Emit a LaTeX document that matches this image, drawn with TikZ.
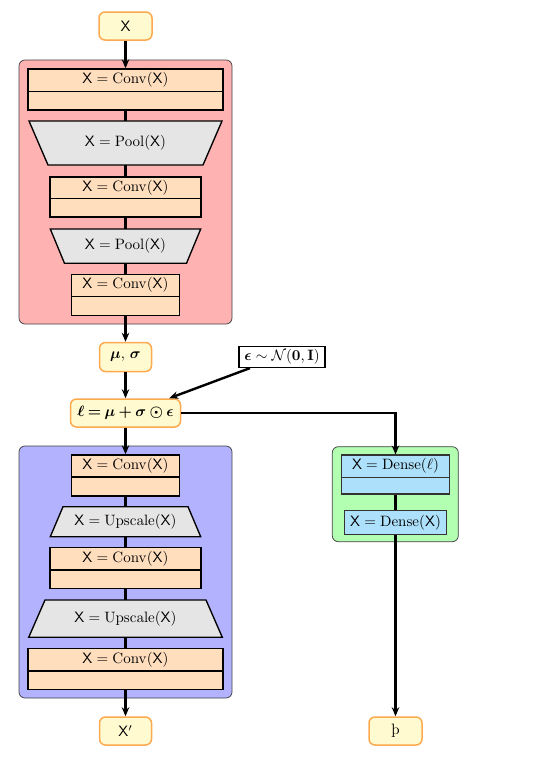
\documentclass[tikz,border=0pt]{standalone}
\usepackage{amsmath,amssymb,bm}
\usetikzlibrary{arrows.meta,calc}
\def\PX{0.6667pt}
\definecolor{peach}{RGB}{255,222,190}
\definecolor{densec}{RGB}{173,224,250}
\definecolor{ionode}{RGB}{255,250,208}
\definecolor{ioborder}{RGB}{252,170,80}
\tikzset{
  x=0.6667pt, y=-0.6667pt,
  sz/.style 2 args={minimum width=#1*\PX, minimum height=#2*\PX},
  iobox/.style={draw=ioborder, line width=1pt, fill=ionode, rounded corners=4pt, inner sep=0pt},
  container/.style={draw=black!75, line width=0.5pt, rounded corners=4pt, inner sep=0pt},
  convbox/.style={draw=black, line width=0.9pt, fill=peach, inner sep=0pt},
  densebox/.style={draw=black!80, line width=0.7pt, fill=densec, inner sep=0pt},
  trapfill/.style={draw=black, line width=0.9pt, fill=black!10},
  ghost/.style={inner sep=0pt},
  arr/.style={line width=1.6pt, -{Stealth[length=6pt,width=5pt]}},
  link/.style={line width=1.6pt},
  epsbox/.style={draw=black, line width=0.8pt, fill=white, inner sep=2pt},
}
\begin{document}
\begin{tikzpicture}
\useasboundingbox (0,0) rectangle (539,759);
% containers
\node[container, fill=red!30, sz={213}{264}] (red) at (125.5,192) {};
\node[container, fill=blue!30, sz={213}{252}] (blue) at (125.5,572) {};
\node[container, fill=green!30, sz={126}{95}] (green) at (395.3,494.2) {};

% trapezoids (shapes drawn directly)
\draw[trapfill] (29,121) -- (222,121) -- (203,165) -- (48,165) -- cycle;
\draw[trapfill] (50.3,229) -- (200.7,229) -- (186.5,263.3) -- (64.5,263.3) -- cycle;
\draw[trapfill] (63,506.7) -- (188,506.7) -- (200.7,536.7) -- (50.3,536.7) -- cycle;
\draw[trapfill] (45,600) -- (206,600) -- (222.3,637.3) -- (28.7,637.3) -- cycle;

% input / output
\node[iobox, sz={53}{28}] (in) at (125.5,26) {$\mathsf{X}$};
\node[iobox, sz={52}{28}] (out) at (125.5,731) {$\mathsf{X}'$};
\node[iobox, sz={53}{28}] (thorn) at (395.5,731) {þ};
\node[iobox, sz={52}{29}] (mu) at (125.5,357) {$\bm{\mu},\,\bm{\sigma}$};
\node[iobox, sz={110}{28}] (ell) at (125.5,413) {$\bm{\ell}\mathbin{\bm{=}}\bm{\mu}\mathbin{\bm{+}}\bm{\sigma}\mathbin{\bm{\odot}}\bm{\epsilon}$};
\node[epsbox, sz={86}{21}] (eps) at (282,357) {$\bm{\epsilon}\sim\mathcal{N}(\mathbf{0},\mathbf{I})$};

% encoder
\node[convbox, sz={195}{41}] (c1) at (125.5,89.5) {};
\node[ghost] (c1t) at ($(c1.north)+(0,11.5)$) {$\mathsf{X}=\mathrm{Conv}(\mathsf{X})$};
\draw[line width=0.9pt] ($(c1.north west)+(0,23)$) -- ($(c1.north east)+(0,23)$);
\node[ghost, sz={193}{44}] (p1) at (125.5,143) {$\mathsf{X}=\mathrm{Pool}(\mathsf{X})$};
\node[convbox, sz={151}{40}] (c2) at (125.5,197) {};
\node[ghost] (c2t) at ($(c2.north)+(0,11)$) {$\mathsf{X}=\mathrm{Conv}(\mathsf{X})$};
\draw[line width=0.9pt] ($(c2.north west)+(0,22)$) -- ($(c2.north east)+(0,22)$);
\node[ghost, sz={150}{34.3}] (p2) at (125.5,246.15) {$\mathsf{X}=\mathrm{Pool}(\mathsf{X})$};
\node[convbox, sz={108}{41.5}] (c3) at (125.5,295) {};
\node[ghost] (c3t) at ($(c3.north)+(0,11.3)$) {$\mathsf{X}=\mathrm{Conv}(\mathsf{X})$};
\draw[line width=0.9pt] ($(c3.north west)+(0,22.7)$) -- ($(c3.north east)+(0,22.7)$);

% decoder
\node[convbox, sz={108}{41}] (c4) at (125.5,475.5) {};
\node[ghost] (c4t) at ($(c4.north)+(0,11.3)$) {$\mathsf{X}=\mathrm{Conv}(\mathsf{X})$};
\draw[line width=0.9pt] ($(c4.north west)+(0,22.7)$) -- ($(c4.north east)+(0,22.7)$);
\node[ghost, sz={150}{30}] (u1) at (125.5,521.7) {$\mathsf{X}=\mathrm{Upscale}(\mathsf{X})$};
\node[convbox, sz={151}{41}] (c5) at (125.5,567.8) {};
\node[ghost] (c5t) at ($(c5.north)+(0,11.7)$) {$\mathsf{X}=\mathrm{Conv}(\mathsf{X})$};
\draw[line width=0.9pt] ($(c5.north west)+(0,23.4)$) -- ($(c5.north east)+(0,23.4)$);
\node[ghost, sz={193}{37.3}] (u2) at (125.5,618.65) {$\mathsf{X}=\mathrm{Upscale}(\mathsf{X})$};
\node[convbox, sz={195}{41}] (c6) at (125.5,668.8) {};
\node[ghost] (c6t) at ($(c6.north)+(0,11.7)$) {$\mathsf{X}=\mathrm{Conv}(\mathsf{X})$};
\draw[line width=0.9pt] ($(c6.north west)+(0,23.4)$) -- ($(c6.north east)+(0,23.4)$);

% dense head
\node[densebox, sz={107.6}{39}] (d1) at (395.5,474.5) {};
\node[ghost] (d1t) at ($(d1.north)+(0,11.3)$) {$\mathsf{X}=\mathrm{Dense}(\ell)$};
\draw[line width=0.7pt, black!80] ($(d1.north west)+(0,22.7)$) -- ($(d1.north east)+(0,22.7)$);
\node[densebox, sz={102.4}{23.6}] (d2) at (395.5,522.5) {$\mathsf{X}=\mathrm{Dense}(\mathsf{X})$};

% connectors
\draw[arr] (in) -- (c1);
\draw[link] (c1) -- (p1);
\draw[link] (p1) -- (c2);
\draw[link] (c2) -- (p2);
\draw[link] (p2) -- (c3);
\draw[arr] (c3) -- (mu);
\draw[arr] (mu) -- (ell);
\draw[arr] ($(eps.south)+(-32,0)$) -- ($(ell.north east)+(-12,0)$);
\draw[arr] (ell) -- (c4);
\draw[link] (c4) -- (u1);
\draw[link] (u1) -- (c5);
\draw[link] (c5) -- (u2);
\draw[link] (u2) -- (c6);
\draw[arr] (c6) -- (out);
\draw[arr] (ell.east) -| (d1.north);
\draw[link] (d1) -- (d2);
\draw[arr] (d2) -- (thorn);
\end{tikzpicture}
\end{document}
